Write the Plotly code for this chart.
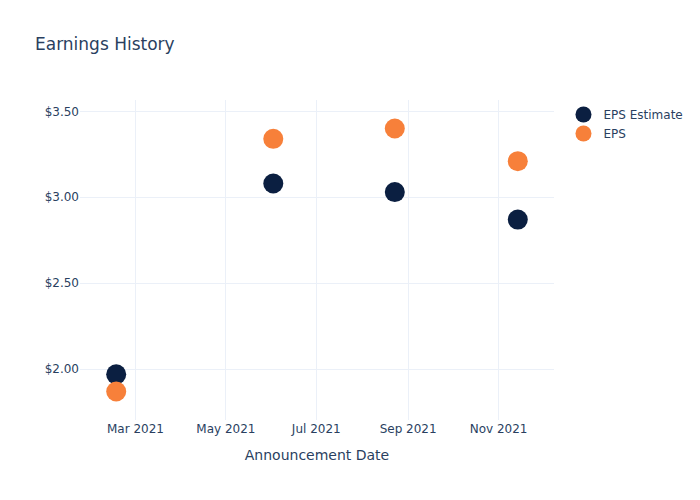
import plotly.graph_objects as go

dates = ["2021-02-16", "2021-06-02", "2021-08-23", "2021-11-14"]
eps_estimate = [1.97, 3.08, 3.03, 2.87]
eps_actual = [1.87, 3.34, 3.40, 3.21]

fig = go.Figure()
fig.add_trace(go.Scatter(x=dates, y=eps_estimate, mode="markers", name="EPS Estimate",
                         marker=dict(color="#0b1f41", size=20)))
fig.add_trace(go.Scatter(x=dates, y=eps_actual, mode="markers", name="EPS",
                         marker=dict(color="#f7803a", size=20)))
fig.update_layout(
    template="plotly_white",
    width=700, height=500,
    font=dict(family="DejaVu Sans"),
    title=dict(text="Earnings History"),
    xaxis=dict(title=dict(text="Announcement Date")),
    yaxis=dict(tickformat="$.2f"),
)
fig.write_html("out.html")
